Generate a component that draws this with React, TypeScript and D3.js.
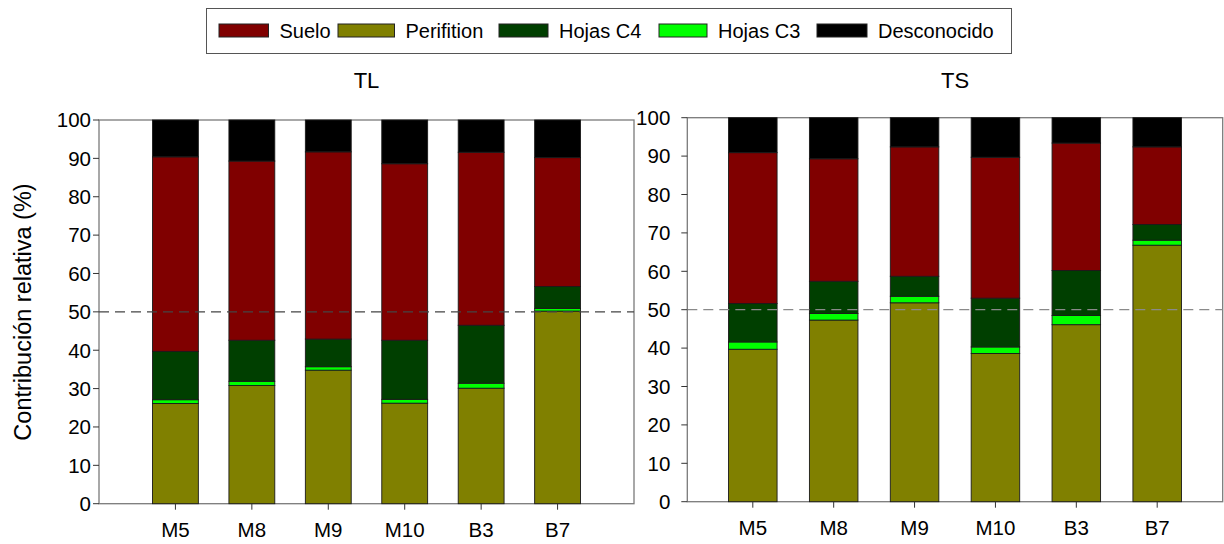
import React from "react";
import * as d3 from "d3";

// ---------- data ----------
const categories = ["M5", "M8", "M9", "M10", "B3", "B7"];
const seriesNames = ["Perifition", "Hojas C3", "Hojas C4", "Suelo", "Desconocido"];
const legendOrder = ["Suelo", "Perifition", "Hojas C4", "Hojas C3", "Desconocido"];
const yTicks = [0, 10, 20, 30, 40, 50, 60, 70, 80, 90, 100];

// TL panel values (%)
const tlPerifition = [26.1, 30.8, 34.8, 26.2, 30.1, 50.2];
const tlHojasC3 = [1.0, 1.1, 0.9, 1.0, 1.3, 0.7];
const tlHojasC4 = [12.6, 10.7, 7.2, 15.4, 15.1, 5.7];
const tlSuelo = [50.7, 46.7, 48.8, 46.0, 45.1, 33.6];
const tlDesconocido = [9.6, 10.7, 8.3, 11.4, 8.4, 9.8];

// TS panel values (%)
const tsPerifition = [39.7, 47.3, 51.8, 38.6, 46.1, 66.8];
const tsHojasC3 = [1.9, 1.7, 1.7, 1.7, 2.4, 1.3];
const tsHojasC4 = [10.0, 8.4, 5.2, 12.7, 11.7, 4.1];
const tsSuelo = [39.3, 31.9, 33.7, 36.7, 33.2, 20.2];
const tsDesconocido = [9.1, 10.7, 7.6, 10.3, 6.6, 7.6];

// ---------- styles ----------
const colors: Record<string, string> = {
  Suelo: "#800000",
  Perifition: "#808000",
  "Hojas C4": "#003f00",
  "Hojas C3": "#00ff00",
  Desconocido: "#000000",
};
const FONT = "'Liberation Sans', Arial, sans-serif";

function buildTable(p: number[], c3: number[], c4: number[], s: number[], d: number[]) {
  return categories.map((cat, i) => ({
    cat,
    idx: i + 1,
    Perifition: p[i],
    "Hojas C3": c3[i],
    "Hojas C4": c4[i],
    Suelo: s[i],
    Desconocido: d[i],
  }));
}

const tlTable = buildTable(tlPerifition, tlHojasC3, tlHojasC4, tlSuelo, tlDesconocido);
const tsTable = buildTable(tsPerifition, tsHojasC3, tsHojasC4, tsSuelo, tsDesconocido);

type PanelProps = {
  table: any[];
  title: string;
  x0: number;
  x1: number;
  yTop: number;
  yBottom: number;
  xDomain: [number, number];
  tickGap: number;
  dashColor: string;
};

function Panel({ table, title, x0, x1, yTop, yBottom, xDomain, tickGap, dashColor }: PanelProps) {
  const x = d3.scaleLinear().domain(xDomain).range([x0, x1]);
  const y = d3.scaleLinear().domain([0, 100]).range([yBottom, yTop]);
  const stack = d3.stack<any>().keys(seriesNames);
  const layers = stack(table);
  const bw = x(0.6) - x(0);
  const axisColor = "#7a7a7a";
  return (
    <g>
      <text x={(x0 + x1) / 2} y={88} textAnchor="middle" fontSize={22} fontFamily={FONT} fill="#000">
        {title}
      </text>
      {/* frame */}
      <rect x={x0} y={yTop} width={x1 - x0} height={yBottom - yTop} fill="#fff" stroke={axisColor} strokeWidth={1.3} />
      {/* bars */}
      {layers.map((layer) => (
        <g key={layer.key}>
          {layer.map((d: any, i: number) => (
            <rect
              key={i}
              x={x(d.data.idx) - bw / 2}
              y={y(d[1])}
              width={bw}
              height={y(d[0]) - y(d[1])}
              fill={colors[layer.key]}
              stroke="#1a1a1a"
              strokeWidth={0.9}
            />
          ))}
        </g>
      ))}
      {/* 50% reference line */}
      <line x1={x0} x2={x1} y1={y(50)} y2={y(50)} stroke={dashColor} strokeWidth={1.2} strokeDasharray="10,6" />
      {/* y ticks */}
      {yTicks.map((t) => (
        <g key={t}>
          <line x1={x0 - 6} x2={x0} y1={y(t)} y2={y(t)} stroke="#333" strokeWidth={1} />
          <text x={x0 - 6 - tickGap} y={y(t)} dy="0.36em" textAnchor="end" fontSize={20.5} fontFamily={FONT} fill="#000">
            {t}
          </text>
        </g>
      ))}
      {/* x ticks */}
      {table.map((d) => (
        <g key={d.cat}>
          <line x1={x(d.idx)} x2={x(d.idx)} y1={yBottom} y2={yBottom + 6} stroke="#333" strokeWidth={1} />
          <text x={x(d.idx)} y={yBottom + 33.5} textAnchor="middle" fontSize={20.5} fontFamily={FONT} fill="#000">
            {d.cat}
          </text>
        </g>
      ))}
    </g>
  );
}

// legend layout (pixel positions of swatches and labels)
const legendSwatchX = [219, 338, 499, 659, 817];
const legendTextX = [279.5, 405.5, 559, 718, 878];

export default function App() {
  return (
    <svg width={1224} height={544} style={{ position: "absolute", left: 0, top: 0, background: "#fff" }}>
      <rect x={0} y={0} width={1224} height={544} fill="#fff" />
      {/* legend */}
      <rect x={206.5} y={8.5} width={805} height={45} fill="#fff" stroke="#555" strokeWidth={1} />
      {legendOrder.map((name, i) => (
        <g key={name}>
          <rect
            x={legendSwatchX[i]}
            y={24}
            width={legendTextX[i] - 11 - legendSwatchX[i]}
            height={13}
            fill={colors[name]}
            stroke="#222"
            strokeWidth={1}
          />
          <text x={legendTextX[i]} y={37.5} fontSize={20} fontFamily={FONT} fill="#000">
            {name}
          </text>
        </g>
      ))}
      {/* y axis title */}
      <text
        transform="translate(31,312) rotate(-90)"
        textAnchor="middle"
        fontSize={23.5}
        fontFamily={FONT}
        fill="#000"
      >
        Contribución relativa (%)
      </text>
      <Panel
        table={tlTable}
        title="TL"
        x0={99}
        x1={634}
        yTop={120}
        yBottom={503.7}
        xDomain={[0, 7]}
        tickGap={2}
        dashColor="#444"
      />
      <Panel
        table={tsTable}
        title="TS"
        x0={687.3}
        x1={1222.7}
        yTop={117.7}
        yBottom={501.7}
        xDomain={[0.19, 6.81]}
        tickGap={11}
        dashColor="#8a8a8a"
      />
    </svg>
  );
}
